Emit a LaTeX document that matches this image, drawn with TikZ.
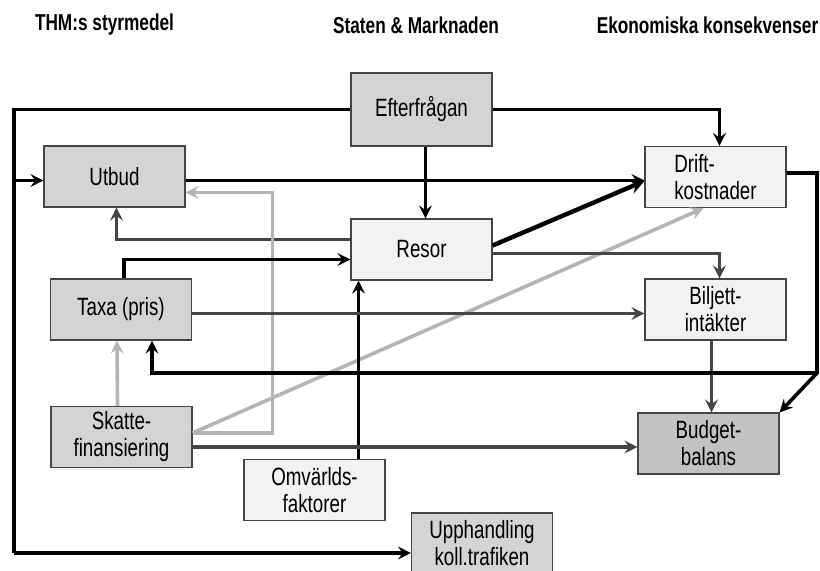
\documentclass[tikz,border=0pt]{standalone}
\usepackage{fontspec}
\setmainfont{Liberation Sans}[FakeStretch=0.75]
\usetikzlibrary{arrows}
\definecolor{boxgray}{HTML}{D4D4D4}
\definecolor{boxlight}{HTML}{F2F2F2}
\definecolor{boxdark}{HTML}{C2C2C2}
\definecolor{edgedark}{HTML}{454545}
\definecolor{edgelight}{HTML}{B4B4B4}
\tikzstyle{graybox} = [rectangle, minimum width=70.5pt, minimum height=30.5pt, align=center, draw=edgedark, fill=boxgray, line width=0.6pt, inner sep=1pt, font=\fontsize{12.5}{13.5}\selectfont]
\tikzstyle{lightbox} = [graybox, fill=boxlight]
\tikzstyle{darkbox} = [graybox, fill=boxdark]
\tikzstyle{header} = [font=\bfseries\fontsize{11.5}{13}\selectfont]
\tikzstyle{arrow} = [line width=1.8pt,->,>=stealth,black]
\tikzstyle{darrow} = [line width=1.8pt,->,>=stealth,edgedark]
\tikzstyle{larrow} = [line width=1.8pt,->,>=stealth,edgelight]
\tikzstyle{line} = [line width=1.8pt,-,black]

\begin{document}
\begin{tikzpicture}[x=0.5pt, y=-0.5pt]
  \useasboundingbox [fill=white] (0,0) rectangle (820,570);

  \node (thm) [header] at (104.5,25) {THM:s styrmedel};
  \node (stat) [header] at (416,25) {Staten \& Marknaden};
  \node (ekon) [header] at (707.5,25) {Ekonomiska konsekvenser};

  \node (eft) [graybox, minimum height=36.5pt] at (421.5,109.5) {Efterfrågan};
  \node (utbud) [graybox] at (114.5,176.5) {Utbud};
  \node (drift) [lightbox, align=left] at (715.5,177) {Drift-\\kostnader};
  \node (resor) [lightbox] at (421.5,249.5) {Resor};
  \node (taxa) [graybox] at (121,309.5) {Taxa (pris)};
  \node (bilj) [lightbox] at (715.5,309.5) {Biljett-\\intäkter};
  \node (skatt) [graybox] at (121.5,437) {Skatte-\\finansiering};
  \node (budget) [darkbox] at (708.5,443.5) {Budget-\\balans};
  \node (omv) [lightbox] at (314.5,490) {Omvärlds-\\faktorer};
  \node (upph) [graybox] at (482,543.5) {Upphandling\\koll.trafiken};

  \coordinate (ltop) at (14,109.5);
  \coordinate (lbot) at (14,553);
  \coordinate (rc) at (817,373);

  \draw [line] (eft.west) -- (ltop) -- (lbot);
  \draw [arrow] (ltop) |- ([yshift=-2pt]utbud.west);
  \draw [arrow] (lbot) -- (lbot -| upph.west);
  \draw [arrow] (eft.east) -| ([xshift=2pt]drift.north);
  \draw [arrow] ([xshift=2pt]eft.south) -- ([xshift=2pt]resor.north);
  \draw [arrow] ([yshift=-2pt]utbud.east) -- ([yshift=-2pt]utbud.east -| drift.west);
  \draw [arrow, line width=2.2pt] ([yshift=2pt]resor.east) -- ([yshift=-2pt]drift.west);
  \draw [darrow] ([yshift=5pt]resor.west) -| ([xshift=1pt]utbud.south);
  \draw [larrow] ([yshift=2pt]skatt.east) -- ++(80,0) |- ([yshift=-8pt]utbud.east);
  \draw [larrow] ([yshift=2pt]skatt.east) -- ([xshift=-6pt]drift.south);
  \draw [larrow] ([xshift=-2pt]skatt.north) -- ([xshift=-2pt]taxa.south);
  \draw [arrow] ([xshift=1.5pt]taxa.north) |- ([yshift=-5pt]resor.west);
  \draw [arrow] ([xshift=22pt]omv.north) -- ([xshift=22pt]omv.north |- resor.south);
  \draw [darrow] ([yshift=-2pt]taxa.east) -- ([yshift=-2pt]taxa.east -| bilj.west);
  \draw [darrow] ([yshift=-2pt]resor.east) -| ([xshift=2pt]bilj.north);
  \draw [darrow] ([xshift=-2pt]bilj.south) -- ([xshift=-2pt]bilj.south |- budget.north);
  \draw [arrow] ([yshift=2pt]drift.east) -| (rc) -- (budget.north east);
  \draw [arrow] (rc) -| ([xshift=15.5pt]taxa.south);
  \draw [darrow] ([yshift=-5pt]skatt.east) -- ([yshift=-5pt]skatt.east -| budget.west);
\end{tikzpicture}
\end{document}
